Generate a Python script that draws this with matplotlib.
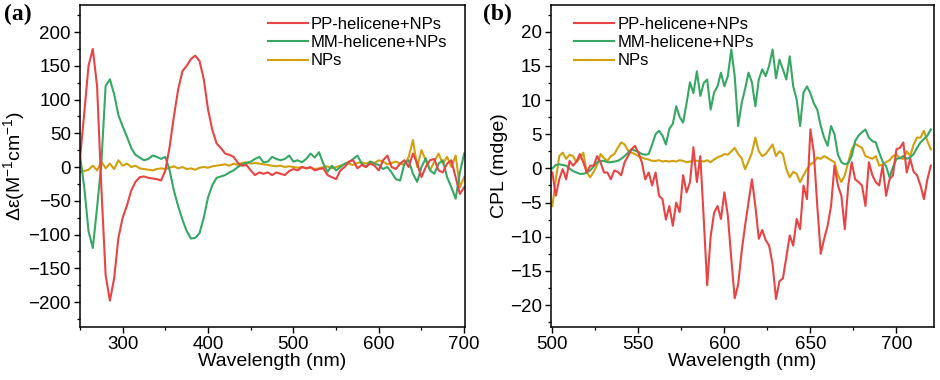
import matplotlib
matplotlib.use('Agg')
import matplotlib.pyplot as plt
import numpy as np
from matplotlib.ticker import MultipleLocator

plt.rcParams['font.family'] = ['Liberation Sans', 'DejaVu Sans']
plt.rcParams['mathtext.default'] = 'regular'

# ---- panel (a): CD spectra, 250-700 nm every 5 nm
wl_a = np.arange(250, 701, 5)
cd_pp = [12, 80, 150, 175, 120, -30, -160, -198, -165, -105,
         -75, -57, -35, -22, -15, -14, -16, -17, -18, -20,
         -5, 30, 75, 115, 142, 150, 160, 165, 157, 130,
         85, 55, 35, 28, 20, 18, 15, 6, 2, 3,
         -5, -12, -8, -10, -8, -12, -8, -10, -12, -6,
         -3, -5, 0, -2, 0, -5, -3, -2, -12, -15,
         -18, -5, 0, 8, 10, -2, 3, 0, 5, 2,
         -5, 10, 17, 0, -3, 5, 10, 0, 20, 5,
         -15, 0, 10, 12, -5, -8, 5, 10, -15, -40,
         -30]
cd_mm = [17, -30, -95, -120, -60, 5, 120, 130, 108, 77,
         60, 45, 28, 18, 14, 10, 12, 17, 15, 12,
         15, -5, -35, -58, -78, -95, -106, -105, -98, -75,
         -45, -27, -16, -14, -12, -8, -5, 0, 4, 6,
         8, 12, 15, 7, 8, 15, 12, 10, 12, 17,
         8, 10, 7, 12, 20, 14, 22, 5, -7, 2,
         -5, 0, 5, 7, 12, 17, 5, 0, 8, 5,
         3, -3, 0, -8, -18, -20, 5, 10, -10, -22,
         0, 13, -5, -10, 5, 10, -15, -30, -47, -8,
         20]
cd_np = [-8, -6, -4, 2, -5, 8, -2, 5, -3, 10,
         2, 5, 0, 2, -2, -3, -4, -5, -3, -2,
         -3, -1, 1, -2, 0, -3, -2, -4, -1, 0,
         -1, 1, 2, 3, 4, 2, 5, 3, 6, 7,
         5, 6, 5, 4, 3, 2, 1, 2, 0, 1,
         0, -1, 0, -2, -1, -3, -2, 0, 1, -2,
         0, 2, 4, 5, 3, 6, 7, 5, 8, 6,
         10, 8, 4, 6, 8, 5, 3, 15, 40, 0,
         25, 10, -5, 8, 20, 5, 15, 0, 17, -30,
         -15]

# ---- panel (b): CPL spectra, 500-720 nm every 2 nm
wl_b = np.arange(500, 721, 2)
cpl_pp = [-0.6, -4.0, -1.6, -0.1, -1.6, 1.1, 0.4, 1.0, 2.1, 0.9,
          -0.6, 0.4, 0.4, 1.8, 0.9, -0.6, -0.6, -1.6, -0.3, -0.5,
          -1.0, 0.9, 1.8, 2.8, 3.3, 2.3, 0.9, -1.6, -0.6, -2.5,
          -0.6, -4.0, -4.5, -7.5, -5.5, -8.4, -5.0, -6.4, -1.0, -3.5,
          -2.0, 3.1, -2.0, 1.8, -7.4, -17.1, -10.0, -6.5, -5.5, -7.4,
          -3.5, -6.9, -13.2, -19.0, -17.0, -12.2, -8.4, -5.0, -1.6, -5.5,
          -10.3, -9.0, -10.5, -11.3, -14.0, -19.1, -16.5, -16.1, -13.0, -9.8,
          -11.3, -7.4, -8.9, -2.5, -4.5, 5.7, 2.3, -5.5, -12.5, -10.3,
          -8.4, -5.5, 0.4, -2.5, -4.0, -8.9, -2.5, 0.9, -1.6, -2.0,
          -2.5, -5.5, 0.9, -1.0, -2.0, -2.5, 0.4, -4.0, -1.6, -1.0,
          2.8, 3.0, 3.8, -0.6, 1.4, -0.5, -1.0, -2.5, -4.5, -1.6,
          0.4]
cpl_mm = [0.0, 0.5, 0.6, 0.5, 0.4, 0.0, -0.4, -0.6, -0.8, -0.8,
          -0.6, -0.3, 0.3, 0.9, 1.1, 1.1, 0.9, 0.9, 1.0, 1.1,
          1.4, 1.8, 2.3, 2.8, 2.6, 2.4, 2.1, 2.0, 2.1, 3.5,
          5.0, 5.5, 4.8, 3.5, 5.8, 6.5, 9.1, 7.5, 6.7, 9.5,
          12.6, 11.0, 14.2, 10.6, 12.5, 13.0, 8.6, 11.1, 12.0, 14.0,
          12.0, 13.5, 17.4, 13.5, 6.2, 9.5, 11.6, 14.0, 12.6, 9.1,
          13.0, 14.5, 13.5, 15.0, 17.4, 13.2, 15.9, 14.5, 13.0, 16.4,
          12.0, 10.1, 6.2, 11.1, 12.0, 11.0, 9.5, 8.6, 6.2, 4.5,
          3.3, 6.2, 5.0, 2.0, 0.9, 0.6, 0.8, 1.8, 4.0, 4.8,
          5.3, 5.7, 4.5, 4.0, 3.8, 2.3, 1.0, 0.3, -1.3, 0.2,
          1.4, 1.5, 1.8, 1.4, 1.6, 2.1, 3.0, 3.8, 4.3, 4.8,
          5.7]
cpl_np = [-5.5, -1.6, 1.8, 2.3, 1.4, 2.0, 1.8, 0.9, 1.5, 2.3,
          -0.6, -1.3, -0.5, 0.5, 2.1, 1.5, 1.1, 1.8, 2.1, 3.0,
          3.8, 3.5, 2.6, 2.3, 2.1, 1.8, 1.6, 1.4, 1.3, 1.1,
          1.1, 1.2, 1.0, 1.1, 1.0, 1.1, 1.0, 1.2, 1.1, 0.9,
          1.0, 1.2, 1.1, 1.1, 1.0, 1.2, 0.9, 1.3, 1.6, 1.8,
          2.1, 2.0, 2.5, 3.0, 2.1, 1.5, -0.1, 1.0, 2.3, 4.5,
          2.5, 1.8, 2.1, 2.8, 3.5, 1.8, 2.5, 2.1, -0.1, -1.3,
          -0.5, -0.8, -2.0, -1.0, -0.1, 0.6, 0.9, 1.6, 1.4, 1.8,
          1.5, 1.2, 0.9, -1.0, -2.0, -1.0, 0.9, 2.8, 3.6, 3.3,
          3.0, 1.8, 1.6, 1.4, 1.8, 0.4, 0.6, 0.9, 1.2, 1.8,
          2.0, 1.5, 1.4, 2.5, 1.8, 3.5, 4.5, 4.5, 5.5, 4.0,
          2.8]

labels = ['PP-helicene+NPs', 'MM-helicene+NPs', 'NPs']
c_pp = '#e84444'
c_mm = '#36a864'
c_np = '#d2a00e'

fig = plt.figure(figsize=(9.4, 3.8), dpi=100)
ax1 = fig.add_axes([0.0851, 0.1395, 0.4096, 0.8473])
ax2 = fig.add_axes([0.5858, 0.1395, 0.4081, 0.8473])


def style(ax):
    for s in ax.spines.values():
        s.set_linewidth(1.1)
    ax.tick_params(which='major', direction='out', length=4, width=1.0,
                   labelsize=13.5, pad=2.5, top=False, right=False)
    ax.tick_params(which='minor', direction='out', length=2.5, width=0.9,
                   top=False, right=False)


# (a)
l3, = ax1.plot(wl_a, cd_np, color=c_np, lw=1.5)
l2, = ax1.plot(wl_a, cd_mm, color=c_mm, lw=1.5)
l1, = ax1.plot(wl_a, cd_pp, color=c_pp, lw=1.5)
ax1.set_xlim(250, 701)
ax1.set_ylim(-237, 240)
ax1.set_xticks([300, 400, 500, 600, 700])
ax1.set_yticks(np.arange(-200, 201, 50))
ax1.xaxis.set_minor_locator(MultipleLocator(50))
ax1.yaxis.set_minor_locator(MultipleLocator(25))
style(ax1)
ax1.set_xlabel('Wavelength (nm)', fontsize=14, labelpad=0)
ax1.set_ylabel('Δε(M$^{-1}$cm$^{-1}$)', fontsize=14, labelpad=1)
ax1.legend((l1, l2, l3), labels, loc='upper right', frameon=False,
           fontsize=12, handlelength=2.4, handletextpad=0.2,
           labelspacing=0.2, borderaxespad=0.3, bbox_to_anchor=(0.985, 1.0))

# (b)
m3, = ax2.plot(wl_b, cpl_np, color=c_np, lw=1.5)
m2, = ax2.plot(wl_b, cpl_mm, color=c_mm, lw=1.5)
m1, = ax2.plot(wl_b, cpl_pp, color=c_pp, lw=1.5)
ax2.set_xlim(499, 722)
ax2.set_ylim(-23.2, 23.9)
ax2.set_xticks([500, 550, 600, 650, 700])
ax2.set_yticks(np.arange(-20, 21, 5))
ax2.xaxis.set_minor_locator(MultipleLocator(25))
ax2.yaxis.set_minor_locator(MultipleLocator(2.5))
style(ax2)
ax2.set_xlabel('Wavelength (nm)', fontsize=14, labelpad=0)
ax2.set_ylabel('CPL (mdge)', fontsize=14, labelpad=1)
ax2.legend((m1, m2, m3), labels, loc='upper left', frameon=False,
           fontsize=12, handlelength=2.4, handletextpad=0.2,
           labelspacing=0.2, borderaxespad=0.3, bbox_to_anchor=(0.03, 1.0))

fig.text(0.004, 0.962, '(a)', family=['Liberation Serif', 'DejaVu Serif'],
         fontweight='bold', fontsize=17, va='center', ha='left')
fig.text(0.514, 0.962, '(b)', family=['Liberation Serif', 'DejaVu Serif'],
         fontweight='bold', fontsize=17, va='center', ha='left')

fig.savefig('out.png', dpi=100)
